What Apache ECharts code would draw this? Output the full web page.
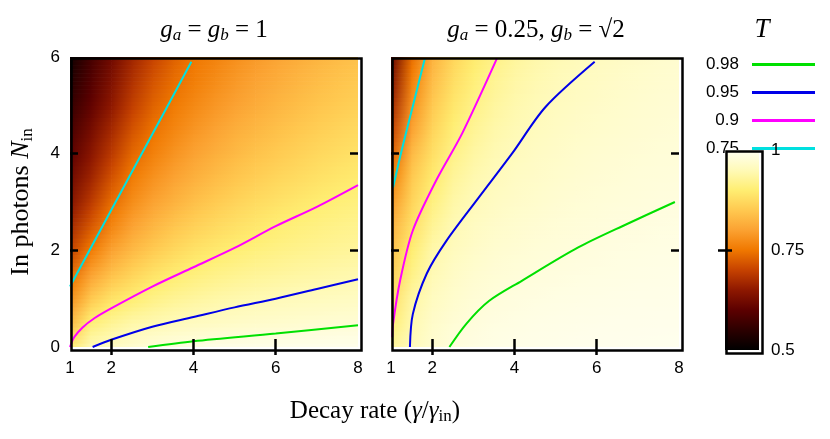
<!DOCTYPE html>
<html><head><meta charset="utf-8">
<script src="https://cdn.jsdelivr.net/npm/echarts@6/dist/echarts.min.js"></script>
<style>html,body{margin:0;padding:0;background:#fff}#c{width:830px;height:439px}</style>
</head><body><div id="c"></div>
<script>
// grid coordinates of the heatmap samples
const xs = [1,1.5,2,2.5,3,3.5,4,4.5,5,5.5,6,6.5,7,7.5,8];
const ys = [0,0.5,1,1.5,2,2.5,3,3.5,4,4.5,5,5.5,6];
// left panel T values, rows follow ys
const tLeft = [
 [0.90,0.95,0.96,0.97,0.98,0.985,0.988,0.99,0.991,0.992,0.993,0.994,0.994,0.995,0.995],
 [0.83,0.905,0.925,0.94,0.945,0.952,0.957,0.96,0.963,0.966,0.968,0.97,0.972,0.974,0.975],
 [0.78,0.85,0.885,0.9,0.915,0.925,0.932,0.938,0.943,0.947,0.95,0.953,0.955,0.957,0.959],
 [0.74,0.80,0.84,0.865,0.885,0.898,0.908,0.916,0.922,0.927,0.931,0.935,0.938,0.941,0.944],
 [0.70,0.755,0.80,0.83,0.852,0.87,0.884,0.894,0.902,0.909,0.914,0.919,0.923,0.927,0.93],
 [0.67,0.72,0.765,0.80,0.825,0.845,0.86,0.872,0.882,0.891,0.90,0.906,0.911,0.916,0.92],
 [0.64,0.69,0.74,0.775,0.80,0.82,0.838,0.852,0.864,0.874,0.883,0.891,0.898,0.904,0.909],
 [0.62,0.665,0.715,0.755,0.78,0.80,0.818,0.833,0.846,0.857,0.867,0.875,0.883,0.89,0.896],
 [0.60,0.645,0.69,0.735,0.76,0.782,0.80,0.816,0.83,0.842,0.852,0.861,0.87,0.877,0.884],
 [0.58,0.625,0.67,0.715,0.745,0.766,0.785,0.80,0.815,0.827,0.838,0.848,0.857,0.865,0.872],
 [0.56,0.605,0.65,0.695,0.73,0.752,0.77,0.786,0.80,0.813,0.825,0.835,0.845,0.853,0.86],
 [0.54,0.59,0.635,0.68,0.715,0.74,0.757,0.773,0.788,0.801,0.813,0.824,0.834,0.843,0.85],
 [0.52,0.575,0.62,0.665,0.70,0.728,0.75,0.762,0.777,0.79,0.802,0.813,0.823,0.832,0.84]
];
// right panel T values
const tRight = [
 [0.93,0.952,0.97,0.981,0.986,0.989,0.991,0.992,0.993,0.994,0.995,0.995,0.996,0.996,0.997],
 [0.90,0.945,0.965,0.975,0.981,0.985,0.987,0.989,0.99,0.991,0.992,0.993,0.993,0.994,0.994],
 [0.88,0.935,0.957,0.968,0.975,0.98,0.983,0.985,0.987,0.988,0.989,0.99,0.991,0.991,0.992],
 [0.86,0.915,0.948,0.962,0.97,0.975,0.978,0.981,0.983,0.985,0.986,0.987,0.988,0.989,0.99],
 [0.84,0.90,0.94,0.955,0.964,0.97,0.974,0.977,0.979,0.981,0.983,0.985,0.986,0.987,0.988],
 [0.82,0.88,0.925,0.947,0.958,0.965,0.969,0.973,0.976,0.978,0.98,0.982,0.983,0.985,0.986],
 [0.79,0.865,0.91,0.938,0.951,0.959,0.964,0.968,0.972,0.975,0.977,0.979,0.98,0.982,0.983],
 [0.76,0.85,0.895,0.928,0.944,0.953,0.96,0.964,0.968,0.971,0.974,0.976,0.978,0.979,0.98],
 [0.73,0.83,0.88,0.915,0.935,0.947,0.954,0.96,0.964,0.968,0.971,0.973,0.975,0.977,0.978],
 [0.70,0.80,0.865,0.903,0.925,0.94,0.948,0.955,0.96,0.964,0.967,0.97,0.972,0.974,0.976],
 [0.67,0.78,0.85,0.89,0.915,0.932,0.943,0.95,0.956,0.96,0.964,0.967,0.97,0.972,0.974],
 [0.64,0.76,0.835,0.878,0.905,0.924,0.937,0.945,0.951,0.956,0.96,0.964,0.967,0.97,0.972],
 [0.61,0.74,0.82,0.865,0.895,0.915,0.93,0.94,0.947,0.952,0.956,0.96,0.964,0.967,0.97]
];
// contour lines [x, y]
const L075 = [[1,1.25],[2,2.83],[3,4.4],[3.95,5.9]];
const L090 = [[1,0],[1.1,0.2],[1.3,0.4],[1.6,0.6],[2,0.8],[3,1.25],[4,1.65],[5,2.05],[6,2.5],[7,2.9],[8,3.35]];
const L095 = [[1.55,0],[2,0.15],[3,0.42],[4,0.62],[5,0.82],[6,1.0],[7,1.2],[8,1.4]];
const L098 = [[2.9,0],[4,0.12],[6,0.28],[8,0.45]];
const R075 = [[1.05,3.3],[1.26,4.07],[1.55,5.05],[1.82,5.96]];
const R090 = [[1.03,0.2],[1.05,0.48],[1.22,1.37],[1.53,2.41],[2.1,3.45],[2.73,4.42],[3.57,5.96]];
const R095 = [[1.46,0],[1.53,0.68],[1.87,1.52],[2.35,2.2],[3.14,3.1],[3.94,4.0],[4.75,4.96],[5.95,5.9]];
const R098 = [[2.42,0],[2.83,0.48],[3.38,0.95],[4.18,1.37],[5.55,2.06],[6.75,2.55],[7.9,3.0]];
const levels = ['0.98','0.95','0.9','0.75'];
const levelColors = ['#00e000','#0000e8','#ff00ff','#00e0e0'];
const paletteColors = ['#000000','#2c0000','#5c0000','#8e1800','#c64200','#f07800','#fba232','#ffc950','#ffee72','#fffab8','#fffff2'];
const tMin=0.5, tMax=1;

const rgb=paletteColors.map(h=>[1,3,5].map(k=>parseInt(h.substr(k,2),16)));
function col(t){
  let u=(t-tMin)/(tMax-tMin)*(rgb.length-1); u=Math.max(0,Math.min(rgb.length-1,u));
  const i=Math.min(rgb.length-2,Math.floor(u)), f=u-i;
  const c=rgb[i].map((v,k)=>Math.round(v+(rgb[i+1][k]-v)*f));
  return 'rgb('+c.join(',')+')';
}
function cells(){const d=[];for(let i=0;i<ys.length-1;i++)for(let j=0;j<xs.length-1;j++)d.push([xs[j],ys[i],i,j]);return d;}
function makeRender(T){
  return function(params, api){
    const i=api.value(2), j=api.value(3);
    const x0=xs[j], x1=xs[j+1], y0=ys[i], y1=ys[i+1];
    const n=6, kids=[];
    for(let k=0;k<n;k++){
      const ya=y0+(y1-y0)*k/n, yb=y0+(y1-y0)*(k+1)/n, f=(k+0.5)/n;
      const tl=T[i][j]+(T[i+1][j]-T[i][j])*f, tr=T[i][j+1]+(T[i+1][j+1]-T[i][j+1])*f;
      const p0=api.coord([x0,yb]), p1=api.coord([x1,ya]);
      kids.push({type:'rect',shape:{x:p0[0],y:p0[1],width:p1[0]-p0[0]+0.7,height:p1[1]-p0[1]+0.7},
        style:{fill:new echarts.graphic.LinearGradient(0,0,1,0,[{offset:0,color:col(tl)},{offset:1,color:col(tr)}])}});
    }
    return {type:'group',children:kids};
  };
}
const G=[{left:70,top:57,width:288,height:290},{left:391,top:57,width:288,height:290},{left:725,top:150,width:34,height:200}];
const lab={fontFamily:'Liberation Sans',fontSize:17,color:'#000'};
const tick={inside:true,length:8,lineStyle:{width:2.5,color:'#000'}};
const xAxes=[], yAxes=[];
[0,1].forEach(g=>{
  xAxes.push({type:'value',gridIndex:g,min:1,max:8,position:'bottom',z:20,
    axisLine:{show:false},splitLine:{show:false},
    axisTick:Object.assign({customValues:[2,4,6]},tick),
    axisLabel:Object.assign({margin:13,customValues:[1,2,4,6,8]},lab)});
  xAxes.push({type:'value',gridIndex:g,min:1,max:8,position:'top',z:20,
    axisLine:{show:false},splitLine:{show:false},axisLabel:{show:false},
    axisTick:Object.assign({customValues:[2,4,6]},tick)});
  yAxes.push({type:'value',gridIndex:g,min:0,max:6,position:'left',z:20,
    axisLine:{show:false},splitLine:{show:false},
    axisTick:Object.assign({customValues:[2,4]},tick),
    axisLabel:Object.assign({show:g===0,margin:10,customValues:[0,2,4,6]},lab),
    name: g===0?'In photons {i|N}{s|in}':'',nameLocation:'middle',nameGap:34,nameRotate:90,
    nameTextStyle:{fontFamily:'Liberation Serif',fontSize:26,color:'#000',
      rich:{i:{fontFamily:'Liberation Serif',fontStyle:'italic',fontSize:26},s:{fontFamily:'Liberation Serif',fontSize:17,padding:[12,0,0,0]}}}});
  yAxes.push({type:'value',gridIndex:g,min:0,max:6,position:'right',z:20,
    axisLine:{show:false},splitLine:{show:false},axisLabel:{show:false},
    axisTick:Object.assign({customValues:[2,4]},tick)});
});
xAxes.push({type:'value',gridIndex:2,show:false,min:0,max:1});
yAxes.push({type:'value',gridIndex:2,min:0.5,max:1,position:'right',z:20,
  axisLine:{show:false},splitLine:{show:false},
  axisTick:Object.assign({},tick,{length:7,customValues:[0.75]}),
  axisLabel:Object.assign({margin:12,customValues:[0.5,0.75,1]},lab,{fontSize:17})});
yAxes.push({type:'value',gridIndex:2,min:0.5,max:1,position:'left',z:20,
  axisLine:{show:false},splitLine:{show:false},axisLabel:{show:false},
  axisTick:Object.assign({},tick,{length:7,customValues:[0.75]})});

const series=[
 {type:'custom',name:'mapL',xAxisIndex:0,yAxisIndex:0,clip:true,data:cells(),renderItem:makeRender(tLeft),z:1},
 {type:'custom',name:'mapR',xAxisIndex:2,yAxisIndex:2,clip:true,data:cells(),renderItem:makeRender(tRight),z:1}
];
const lineSets=[[L098,L095,L090,L075],[R098,R095,R090,R075]];
lineSets.forEach((set,g)=>set.forEach((d,k)=>series.push({type:'line',name:levels[k],xAxisIndex:g*2,yAxisIndex:g*2,
  data:d,smooth:0.3,showSymbol:false,clip:true,z:3,lineStyle:{width:2,color:levelColors[k]},itemStyle:{color:levelColors[k]}})));

const rich={i:{fontFamily:'Liberation Serif',fontStyle:'italic',fontSize:25},
  s:{fontFamily:'Liberation Serif',fontStyle:'italic',fontSize:17,padding:[12,0,0,0]},
  r:{fontFamily:'Liberation Serif',fontSize:25}};
const chart=echarts.init(document.getElementById('c'));
chart.setOption({
  animation:false,
  grid:G.map(g=>Object.assign({show:false},g)),
  xAxis:xAxes,yAxis:yAxes,
  legend:{orient:'vertical',right:10,top:51,align:'right',itemWidth:63,itemHeight:3,itemGap:11,
    data:levels.map(n=>({name:n,icon:'rect'})),
    textStyle:{fontFamily:'Liberation Sans',fontSize:17,color:'#000',padding:[0,8,0,0]}},
  graphic:[
    {type:'rect',left:69,top:56,shape:{width:290,height:292},style:{fill:'none',stroke:'#000',lineWidth:2.5},z:100},
    {type:'rect',left:390,top:56,shape:{width:290,height:292},style:{fill:'none',stroke:'#000',lineWidth:2.5},z:100},
    {type:'rect',left:725,top:150,shape:{width:34,height:200},z:5,
      style:{fill:new echarts.graphic.LinearGradient(0,1,0,0,paletteColors.map((c,k)=>({offset:k/(paletteColors.length-1),color:c})))}},
    {type:'rect',left:724,top:149,shape:{width:36,height:202},style:{fill:'none',stroke:'#000',lineWidth:2.5},z:100},
    {type:'text',x:214,y:30,style:{text:'{i|g}{s|a}{r| = }{i|g}{s|b}{r| = 1}',rich:rich,align:'center',verticalAlign:'middle'}},
    {type:'text',x:536,y:30,style:{text:'{i|g}{s|a}{r| = 0.25, }{i|g}{s|b}{r| = √2}',rich:rich,align:'center',verticalAlign:'middle'}},
    {type:'text',x:762,y:30,style:{text:'T',fontFamily:'Liberation Serif',fontStyle:'italic',fontSize:27,fill:'#000',align:'center',verticalAlign:'middle'}},
    {type:'text',x:375,y:411,style:{text:'{r|Decay rate (}{i|γ}{r|/}{i|γ}{t|in}{r|)}',align:'center',verticalAlign:'middle',
      rich:{r:{fontFamily:'Liberation Serif',fontSize:25},i:{fontFamily:'Liberation Serif',fontStyle:'italic',fontSize:25},
        t:{fontFamily:'Liberation Serif',fontSize:17,padding:[12,0,0,0]}}}}
  ],
  series:series
});
</script></body></html>
